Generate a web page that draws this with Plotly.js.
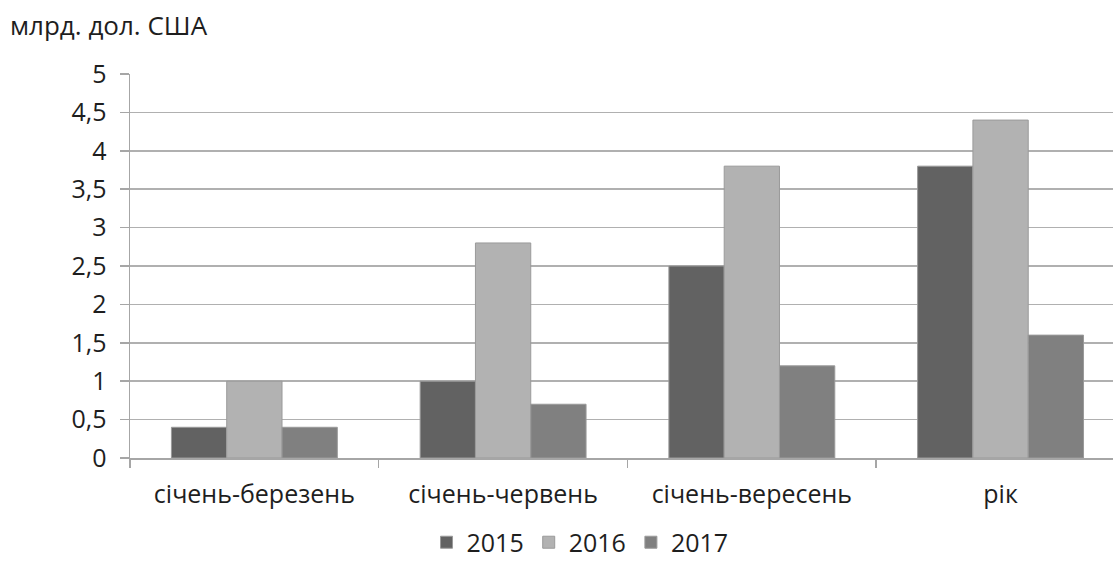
<!DOCTYPE html>
<html><head><meta charset="utf-8">
<script src="https://cdn.plot.ly/plotly-3.0.1.min.js"></script>
<style>body{margin:0;background:#fff}#chart{width:1113px;height:580px}</style>
</head><body><div id="chart"></div>
<script>
const categories = ["січень-березень", "січень-червень", "січень-вересень", "рік"];
const years = ["2015", "2016", "2017"];
const v2015 = [0.4, 1.0, 2.5, 3.8];
const v2016 = [1.0, 2.8, 3.8, 4.4];
const v2017 = [0.4, 0.7, 1.2, 1.6];
const yTicks = [0, 0.5, 1, 1.5, 2, 2.5, 3, 3.5, 4, 4.5, 5];

const colors = ["#626262", "#b2b2b2", "#808080"];
const series = [v2015, v2016, v2017];
const data = series.map((s, i) => ({
  type: "bar", name: years[i], x: categories, y: s,
  marker: {color: colors[i], line: {color: "#9a9a9a", width: 1}}
}));
const fam = "Open Sans, Noto Sans, sans-serif";
const font = {family: fam, color: "#1e1e1e", size: 25};
const layout = {
  width: 1113, height: 580,
  margin: {l: 130, r: 0, t: 74, b: 122, autoexpand: false},
  separators: ", ",
  font: font,
  paper_bgcolor: "#fff", plot_bgcolor: "#fff",
  bargap: 0.333, bargroupgap: 0,
  title: {text: "млрд. дол. США", x: 0.009, xanchor: "left", xref: "container", y: 0.955, yanchor: "middle", yref: "container", font: {family: fam, size: 26, color: "#1e1e1e"}},
  xaxis: {type: "category", range: [-0.5, 3.452], showline: true, linecolor: "#a6a6a6", linewidth: 1.5,
    ticks: "outside", tickson: "boundaries", ticklen: 8, tickcolor: "#a6a6a6", tickwidth: 1.5,
    tickangle: 0, automargin: false, tickfont: {family: fam, size: 25, color: "#1e1e1e"},
    ticklabelstandoff: 13, showgrid: false, fixedrange: true},
  yaxis: {range: [0, 5], tickvals: yTicks, showgrid: true, gridcolor: "#b0b0b0", gridwidth: 1.5,
    showline: true, linecolor: "#a6a6a6", linewidth: 1.5, ticks: "outside", ticklen: 9, automargin: false,
    tickfont: {family: fam, size: 25, color: "#1e1e1e"},
    tickcolor: "#a6a6a6", tickwidth: 1.5, ticklabelstandoff: 8, zeroline: false, fixedrange: true},
  showlegend: true,
  legend: {orientation: "h", xref: "paper", x: 0.4578, xanchor: "center", y: -0.22, yanchor: "middle",
    font: {family: fam, size: 25, color: "#1e1e1e"}, itemwidth: 30, traceorder: "normal"}
};
Plotly.newPlot("chart", data, layout, {displayModeBar: false, staticPlot: true});
</script></body></html>
